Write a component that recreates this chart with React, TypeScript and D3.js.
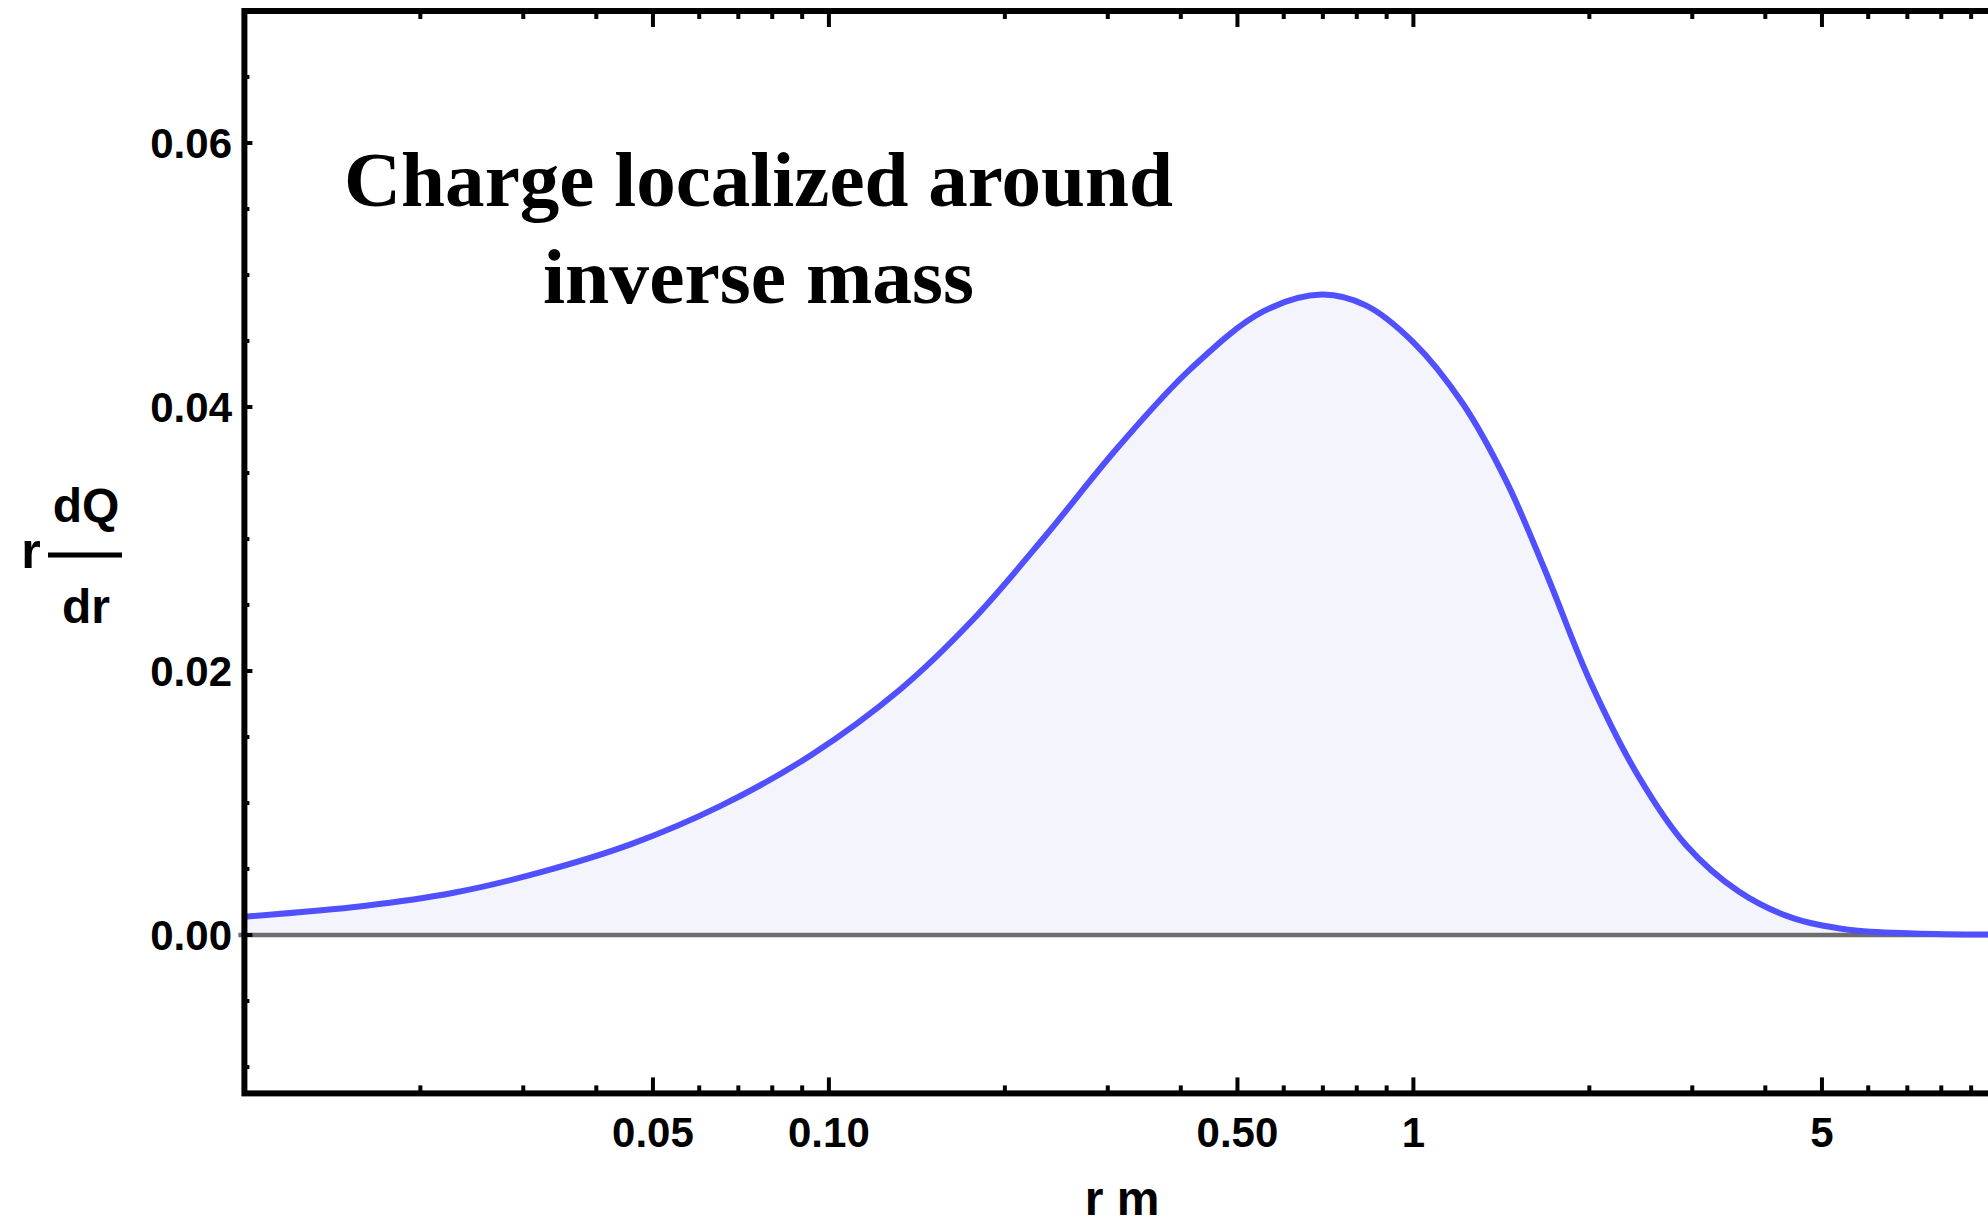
import React from "react";
import * as d3 from "d3";

// ---- data ----
const rValues = [0.01, 0.016, 0.0228, 0.0324, 0.046, 0.0654, 0.093, 0.1324, 0.1763, 0.2346, 0.3123, 0.4158, 0.5534, 0.6972, 0.829, 1.0, 1.213, 1.441, 1.684, 2.002, 2.421, 2.928, 3.604, 4.437, 5.552, 7.19, 10];
const qValues = [0.00139, 0.0022, 0.0032, 0.0048, 0.0069, 0.0098, 0.0136, 0.0186, 0.02388, 0.03023, 0.03695, 0.04289, 0.04724, 0.04852, 0.0477, 0.0449, 0.0403, 0.0344, 0.0275, 0.0193, 0.0121, 0.0068, 0.00329, 0.00131, 0.0004, 0.00012, 0.00004];

const xMajorTicks = [0.05, 0.1, 0.5, 1, 5];
const xMajorLabels = ["0.05", "0.10", "0.50", "1", "5"];
const xMinorTicks = [0.02, 0.03, 0.04, 0.06, 0.07, 0.08, 0.09, 0.2, 0.3, 0.4, 0.6, 0.7, 0.8, 0.9, 2, 3, 4, 6, 7, 8, 9];
const yMajorTicks = [0, 0.02, 0.04, 0.06];
const yMajorLabels = ["0.00", "0.02", "0.04", "0.06"];
const yMinorTicks = [-0.01, -0.005, 0.005, 0.01, 0.015, 0.025, 0.03, 0.035, 0.045, 0.05, 0.055, 0.065];
const titleLines = ["Charge localized around", "inverse mass"];

const W = 1988;
const H = 1225;

export default function App() {
  const x = d3.scaleLog().domain([0.01, 10]).range([244.4, 1997.9]);
  const y = d3.scaleLinear().domain([-0.012, 0.07]).range([1093.4, 11]);
  const pts = rValues.map((r, i) => [r, qValues[i]] as [number, number]);
  const curve = d3.curveCatmullRom.alpha(0.5);
  const line = d3
    .line<[number, number]>()
    .x((d) => x(d[0]))
    .y((d) => y(d[1]))
    .curve(curve);
  const area = d3
    .area<[number, number]>()
    .x((d) => x(d[0]))
    .y0(y(0))
    .y1((d) => y(d[1]))
    .curve(curve);

  const left = x(0.01);
  const right = x(10);
  const top = y(0.07);
  const bottom = y(-0.012);
  const sans = "'Liberation Sans', Arial, Helvetica, sans-serif";
  const serif = "'Liberation Serif', 'Times New Roman', serif";

  return (
    <svg
      width={W}
      height={H}
      viewBox={`0 0 ${W} ${H}`}
      style={{ position: "absolute", left: 0, top: 0, background: "#fff" }}
    >
      <rect x={0} y={0} width={W} height={H} fill="#fff" />
      {/* filled area */}
      <path d={area(pts) || ""} fill="#f4f4fd" stroke="none" />
      {/* zero axis line */}
      <line x1={left - 6} x2={W} y1={y(0)} y2={y(0)} stroke="#6d6d6d" strokeWidth={4.5} />
      {/* curve */}
      <path d={line(pts) || ""} fill="none" stroke="#5050ff" strokeWidth={6} strokeLinejoin="round" />

      {/* frame */}
      <rect x={left} y={top} width={right - left} height={bottom - top} fill="none" stroke="#000" strokeWidth={6} />

      {/* x ticks bottom & top */}
      {xMajorTicks.map((t) => (
        <g key={"xM" + t}>
          <line x1={x(t)} x2={x(t)} y1={bottom} y2={bottom - 16} stroke="#000" strokeWidth={4} />
          <line x1={x(t)} x2={x(t)} y1={top} y2={top + 16} stroke="#000" strokeWidth={4} />
        </g>
      ))}
      {xMinorTicks.map((t) => (
        <g key={"xm" + t}>
          <line x1={x(t)} x2={x(t)} y1={bottom} y2={bottom - 8} stroke="#000" strokeWidth={4} />
          <line x1={x(t)} x2={x(t)} y1={top} y2={top + 8} stroke="#000" strokeWidth={4} />
        </g>
      ))}
      {xMajorTicks.map((t, i) => (
        <text
          key={"xl" + t}
          x={x(t)}
          y={1147}
          textAnchor="middle"
          fontFamily={sans}
          fontWeight="bold"
          fontSize={42}
          fill="#000"
        >
          {xMajorLabels[i]}
        </text>
      ))}

      {/* y ticks */}
      {yMajorTicks.map((t) => (
        <line key={"yM" + t} x1={left} x2={left + 8} y1={y(t)} y2={y(t)} stroke="#000" strokeWidth={4} />
      ))}
      {yMinorTicks.map((t) => (
        <line key={"ym" + t} x1={left} x2={left + 5} y1={y(t)} y2={y(t)} stroke="#000" strokeWidth={4} />
      ))}
      {yMajorTicks.map((t, i) => (
        <text
          key={"yl" + t}
          x={232}
          y={y(t) + 15}
          textAnchor="end"
          fontFamily={sans}
          fontWeight="bold"
          fontSize={42}
          fill="#000"
        >
          {yMajorLabels[i]}
        </text>
      ))}

      {/* axis labels */}
      <text x={1122} y={1215} textAnchor="middle" fontFamily={sans} fontWeight="bold" fontSize={48} fill="#000">
        r m
      </text>
      <text x={31} y={568} textAnchor="middle" fontFamily={sans} fontWeight="bold" fontSize={50} fill="#000">
        r
      </text>
      <text x={86} y={522} textAnchor="middle" fontFamily={sans} fontWeight="bold" fontSize={48} fill="#000">
        dQ
      </text>
      <line x1={48} x2={122} y1={555} y2={555} stroke="#000" strokeWidth={5} />
      <text x={86} y={623} textAnchor="middle" fontFamily={sans} fontWeight="bold" fontSize={48} fill="#000">
        dr
      </text>

      {/* title */}
      <text
        x={344}
        y={206}
        fontFamily={serif}
        fontWeight="bold"
        fontSize={78}
        fill="#000"
        textLength={829}
        lengthAdjust="spacingAndGlyphs"
      >
        {titleLines[0]}
      </text>
      <text
        x={543}
        y={303}
        fontFamily={serif}
        fontWeight="bold"
        fontSize={78}
        fill="#000"
        textLength={431}
        lengthAdjust="spacingAndGlyphs"
      >
        {titleLines[1]}
      </text>
    </svg>
  );
}
